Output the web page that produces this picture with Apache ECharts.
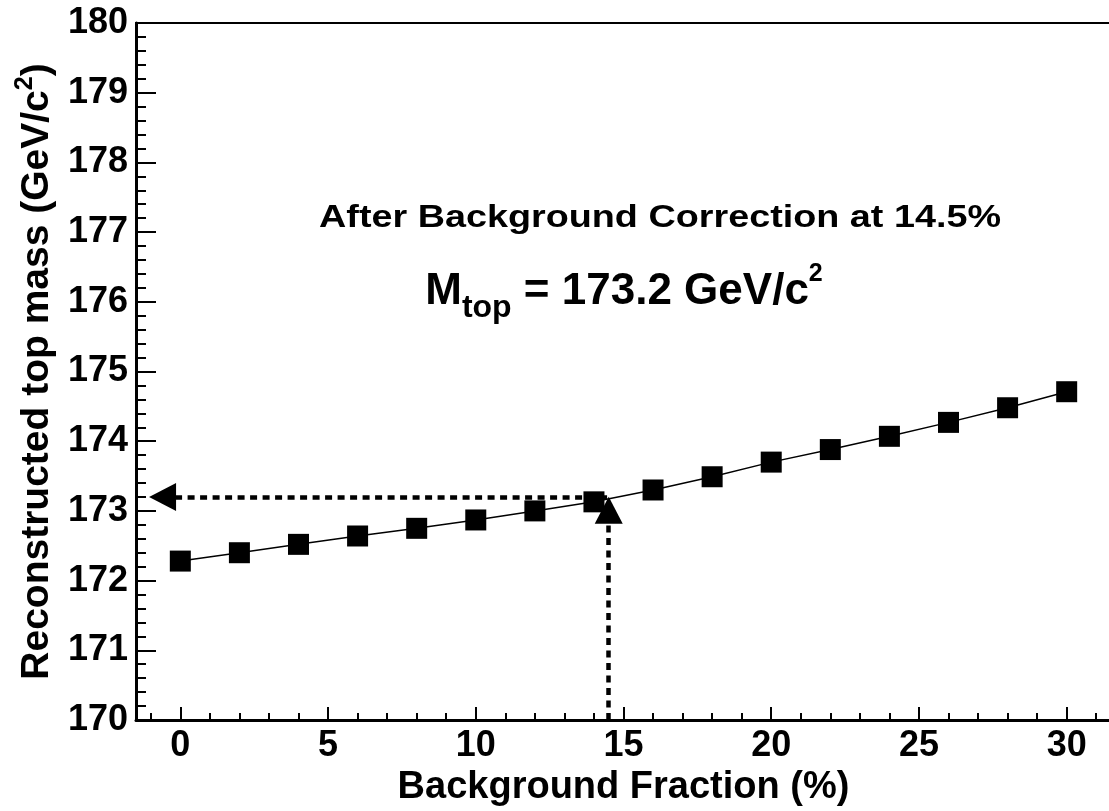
<!DOCTYPE html>
<html>
<head>
<meta charset="utf-8">
<script src="https://cdn.jsdelivr.net/npm/echarts@6/dist/echarts.min.js"></script>
<style>
  html, body { margin: 0; padding: 0; background: #fff; }
  #chart { width: 1109px; height: 811px; }
</style>
</head>
<body>
<div id="chart"></div>
<script>
// measured points
var bgFraction = [0, 2, 4, 6, 8, 10, 12, 14, 16, 18, 20, 22, 24, 26, 28, 30];
var topMass = [172.28, 172.40, 172.52, 172.64, 172.75, 172.87, 173.00, 173.13,
               173.30, 173.49, 173.70, 173.88, 174.07, 174.27, 174.48, 174.71];

// correction point
var corrFraction = 14.5;
var corrMass = 173.2;

// axis ticks
var xMajorTicks = [0, 5, 10, 15, 20, 25, 30];
var xMinorTicks = [-1, 1, 2, 3, 4, 6, 7, 8, 9, 11, 12, 13, 14, 16, 17, 18, 19,
                   21, 22, 23, 24, 26, 27, 28, 29, 31];

var FONT = '"Liberation Sans", Arial, Helvetica, sans-serif';

var chart = echarts.init(document.getElementById('chart'));

var xMin = -1.5, xMax = 31.5;

chart.setOption({
  animation: false,
  backgroundColor: '#fff',
  grid: {
    left: 136, top: 23, width: 975, height: 697,
    containLabel: false,
    outerBoundsMode: 'none',
    show: true,
    borderColor: '#000',
    borderWidth: 2,
    backgroundColor: 'transparent'
  },
  xAxis: [{
    type: 'value',
    min: xMin, max: xMax,
    position: 'bottom',
    splitLine: { show: false },
    axisLine: { show: true, onZero: false, lineStyle: { color: '#000', width: 3 } },
    axisTick: { show: true, inside: true, length: 13, customValues: xMajorTicks,
                lineStyle: { color: '#000', width: 2 } },
    axisLabel: { customValues: xMajorTicks, margin: 8, color: '#000',
                 fontSize: 36, fontWeight: 'bold', fontFamily: FONT },
    name: 'Background Fraction (%)',
    nameLocation: 'middle',
    nameGap: 45,
    nameTextStyle: { color: '#000', fontSize: 38, fontWeight: 'bold', fontFamily: FONT }
  }, {
    type: 'value',
    min: xMin, max: xMax,
    position: 'bottom',
    splitLine: { show: false },
    axisLine: { show: false },
    axisTick: { show: true, inside: true, length: 7, customValues: xMinorTicks,
                lineStyle: { color: '#000', width: 2 } },
    axisLabel: { show: false }
  }],
  yAxis: {
    type: 'value',
    min: 170, max: 180, interval: 1,
    splitLine: { show: false },
    axisLine: { show: true, onZero: false, lineStyle: { color: '#000', width: 3 } },
    axisTick: { show: true, inside: true, length: 20, lineStyle: { color: '#000', width: 2 } },
    minorTick: { show: true, splitNumber: 5, length: 10, lineStyle: { color: '#000', width: 2 } },
    axisLabel: { margin: 8, color: '#000', fontSize: 36, fontWeight: 'bold', fontFamily: FONT },
    name: '{t|Reconstructed top mass (GeV/c}{sup|2}{t|)}',
    nameLocation: 'middle',
    nameGap: 72,
    nameTextStyle: {
      color: '#000', fontSize: 39, fontWeight: 'bold', fontFamily: FONT,
      rich: {
        t: { color: '#000', fontSize: 39, fontWeight: 'bold', fontFamily: FONT },
        sup: { color: '#000', fontSize: 25, fontWeight: 'bold', fontFamily: FONT, padding: [0, 0, 24, 0] }
      }
    }
  },
  series: [{
    type: 'line',
    xAxisIndex: 0,
    data: bgFraction.map(function (x, i) { return [x, topMass[i]]; }),
    symbol: 'rect',
    symbolSize: 21,
    lineStyle: { color: '#000', width: 1.5 },
    itemStyle: { color: '#000' },
    markLine: {
      silent: true,
      z: 5,
      symbolSize: [28, 27],
      label: { show: false },
      lineStyle: { color: '#000', width: 4.5, type: [7, 5.5] },
      data: [
        [{ coord: [-0.6, corrMass], symbol: 'triangle' },
         { coord: [corrFraction, corrMass], symbol: 'none' }],
        [{ coord: [corrFraction, 170], symbol: 'none' },
         { coord: [corrFraction, corrMass - 0.19], symbol: 'triangle' }]
      ]
    }
  }],
  graphic: [{
    type: 'text',
    x: 660, y: 218,
    scaleX: 1.18,
    style: {
      text: 'After Background Correction at ' + corrFraction + '%',
      fill: '#000',
      fontSize: 32, fontWeight: 'bold', fontFamily: FONT,
      align: 'center', verticalAlign: 'middle'
    }
  }, {
    type: 'text',
    x: 624, y: 292,
    style: {
      text: '{m|M}{sub|top}{m| = ' + corrMass.toFixed(1) + ' GeV/c}{sup|2}',
      fill: '#000',
      align: 'center', verticalAlign: 'middle',
      rich: {
        m: { fill: '#000', fontSize: 44, fontWeight: 'bold', fontFamily: FONT },
        sub: { fill: '#000', fontSize: 32, fontWeight: 'bold', fontFamily: FONT, padding: [32, 0, 0, 0] },
        sup: { fill: '#000', fontSize: 25, fontWeight: 'bold', fontFamily: FONT, padding: [0, 0, 36, 0] }
      }
    }
  }]
});
</script>
</body>
</html>
